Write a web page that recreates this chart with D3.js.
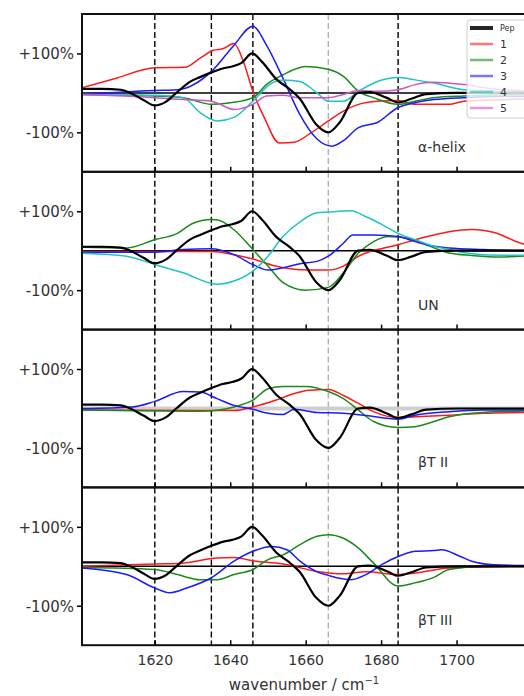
<!DOCTYPE html>
<html lang="en">
<head>
<meta charset="UTF-8">
<title>Difference spectra</title>
<script src="https://d3js.org/d3.v7.min.js"></script>
<style>
  body { margin: 0; background: #fff; }
  text { font-family: "DejaVu Sans", sans-serif; fill: #222; }
</style>
</head>
<body>
<div id="chart"></div>
<script>
// ---- data (wavenumber, % of peptide signal) ----
const panelNames = ["α-helix", "UN", "βT II", "βT III"];
const seriesNames = ["Pep", "1", "2", "3", "4", "5"];
const seriesColors = ["#000000", "#ff1a1a", "#1a8a1a", "#1a1aff", "#1fc4c4", "#cc55cc"];
const xTicks = [1620, 1640, 1660, 1680, 1700];
const yTicks = [100, -100];
const yTickLabels = ["+100%", "-100%"];
const markerLines = [1620, 1635, 1646, 1666, 1684.5];

const pep = [[1600,10],[1606,10],[1611,8],[1613.5,0],[1617,-18],[1620,-32],[1623,-22],[1625.7,0],
  [1629.3,28],[1632,40],[1635,52],[1638,62],[1640.5,67],[1643,76],[1645.8,100],[1648.5,78],
  [1652.2,35],[1655.8,9],[1658.4,-14],[1662.8,-80],[1666,-100],[1669,-75],[1673.9,0],[1677,2],
  [1681.4,-12],[1684.5,-24],[1688,-15],[1692,-3],[1700,0],[1720,0]];

// alpha-helix
const helix1 = [[1600,11],[1610,38],[1620,64],[1628,65],[1632,88],[1635.5,108],[1638,112],[1641,125],
  [1643.5,79],[1646,4],[1649,-62],[1653,-127],[1657,-125],[1661,-104],[1666,-71],[1670,-46],
  [1674,-29],[1679,-21],[1684.5,-19],[1689,-29],[1698,-29],[1702,-21],[1710,-18],[1720,-15]];
const helix2 = [[1600,-4],[1620,-8],[1627.5,-12],[1635,-29],[1640,-25],[1646,-12],[1649.6,21],[1654,46],
  [1660,67],[1666,60],[1670,42],[1674,4],[1678,-12],[1684.5,-29],[1689,-21],[1694,-12],[1702,-8],[1720,-4]];
const helix3 = [[1600,-4],[1620,6],[1626,8],[1635,54],[1641,121],[1646,169],[1649.6,121],[1654,37],
  [1658.4,-54],[1663,-117],[1667,-135],[1670,-121],[1674,-88],[1679,-75],[1684.5,-37],[1689,-25],
  [1694,-17],[1702,-12],[1720,-8]];
const helix4 = [[1600,-4],[1620,-6],[1627.5,-12],[1632,-50],[1636.5,-71],[1641,-62],[1646,-21],[1651,25],
  [1654,33],[1658.5,29],[1663,0],[1666,-21],[1670,-21],[1674,4],[1679,29],[1684.5,39],[1689,33],
  [1694,25],[1702,8],[1710,5],[1720,3]];
const helix5 = [[1600,-4],[1620,-12],[1627.5,-17],[1635,-21],[1641,-42],[1646,-29],[1649.6,-8],[1654,-6],
  [1658.5,-12],[1666,-12],[1670,-4],[1674,6],[1679,4],[1684.5,8],[1689,21],[1694,27],[1702,21],
  [1710,10],[1720,5]];

// UN
const un1 = [[1600,-2],[1635,-2],[1641,-10],[1646,-21],[1652,-39],[1658.5,-48],[1666,-49],[1670,-39],
  [1674,-14],[1679,3],[1684.5,15],[1689,28],[1694,40],[1698,48],[1704,54],[1710,46],[1717,19],[1720,12]];
const un2 = [[1600,9],[1612.5,7],[1620,28],[1626,44],[1630,69],[1635,79],[1637,77],[1641,53],[1646,3],
  [1650,-39],[1654,-81],[1660,-100],[1666,-93],[1670,-56],[1674,-6],[1678,23],[1682,36],[1687,32],
  [1692,15],[1698,-6],[1704,-12],[1711,-16],[1720,-12]];
const un3 = [[1600,-4],[1620,-4],[1627.5,3],[1635,5],[1641,-10],[1646,-35],[1650,-49],[1654,-43],
  [1658.5,-33],[1663,-27],[1666,-14],[1670,19],[1672.5,40],[1678,40],[1684.5,36],[1689,23],[1694,11],
  [1698,7],[1707,3],[1720,0]];
const un4 = [[1600,-6],[1612.5,-14],[1620,-35],[1627.5,-56],[1636.5,-85],[1641,-77],[1646,-52],[1650,-14],
  [1654,36],[1658.5,73],[1663,96],[1666,98],[1672,101],[1676,86],[1680.5,65],[1684.5,44],[1689,28],
  [1694,11],[1698,3],[1702.6,-6],[1707,-10],[1720,-12]];

// beta-turn II
const bt2_1 = [[1600,-4],[1641,-5],[1646,4],[1652,21],[1657,38],[1661,46],[1666,48],[1670,33],[1674,13],
  [1678,-8],[1684.5,-23],[1689,-21],[1698,-17],[1707,-12],[1720,-10]];
const bt2_2 = [[1600,-4],[1632,-7],[1641,4],[1646,21],[1650,50],[1654,56],[1660,56],[1666,43],[1670,25],
  [1674,-4],[1678,-33],[1684.5,-48],[1689,-46],[1694,-33],[1698,-21],[1707,-10],[1720,-6]];
const bt2_3 = [[1600,0],[1614,4],[1620,18],[1627.5,43],[1632,42],[1636.5,25],[1641,8],[1646,-2],[1650,-12],
  [1654,-15],[1657,-2],[1663,-10],[1670,-12],[1676,-18],[1684.5,-27],[1689,-17],[1698,-8],[1707,-4],[1720,-4]];

// beta-turn III
const bt3_1 = [[1600,0],[1620,6],[1627.5,8],[1636.5,21],[1641,22],[1646,14],[1654,6],[1663,-13],[1670,-19],
  [1676,-14],[1684.5,-21],[1689,-17],[1698,-4],[1720,0]];
const bt3_2 = [[1600,-3],[1620,-8],[1626,-21],[1632,-34],[1636.5,-34],[1641,-21],[1646,-8],[1650,17],
  [1654,29],[1658.5,55],[1663,76],[1666,80],[1670,71],[1674,46],[1678,8],[1684.5,-50],[1689,-42],
  [1694,-28],[1698,-8],[1707,0],[1720,0]];
const bt3_3 = [[1600,-4],[1612.5,-21],[1620,-55],[1624,-67],[1628.5,-55],[1635,-29],[1641,13],[1646,38],
  [1651,50],[1655,42],[1658.5,13],[1663,-14],[1666,-23],[1672,-34],[1676,-21],[1680.5,6],[1684.5,25],
  [1689,38],[1694,40],[1696,42],[1701,25],[1704,13],[1710,4],[1720,2]];

// series index -> data per panel (index matches seriesNames / seriesColors)
const panelSeries = [
  [[1, helix1], [2, helix2], [3, helix3], [4, helix4], [5, helix5], [0, pep]],
  [[1, un1], [2, un2], [3, un3], [4, un4], [0, pep]],
  [[1, bt2_1], [2, bt2_2], [3, bt2_3], [0, pep]],
  [[1, bt3_1], [2, bt3_2], [3, bt3_3], [0, pep]]
];

// ---- layout ----
const W = 524, H = 696;
const left = 82, right = 532;
const top0 = 14, ph = 157.8;

const svg = d3.select("#chart").append("svg")
  .attr("width", W).attr("height", H);

const x = d3.scaleLinear().domain([1600.7, 1720]).range([left, right]);

svg.append("defs").append("clipPath").attr("id", "plotclip")
  .append("rect").attr("x", left).attr("y", 0).attr("width", right - left).attr("height", ph);

panelSeries.forEach((series, i) => {
  const top = top0 + i * ph;
  const y = d3.scaleLinear().domain([-200, 200]).range([ph, 0]);
  const g = svg.append("g").attr("transform", `translate(0,${top})`);
  const plot = g.append("g").attr("clip-path", "url(#plotclip)");

  // reference band positions
  plot.selectAll("line.mark").data(markerLines).join("line")
    .attr("class", "mark")
    .attr("x1", d => x(d)).attr("x2", d => x(d))
    .attr("y1", 0).attr("y2", ph)
    .attr("stroke", (d, k) => k === 3 ? "#b0b0b0" : "#000")
    .attr("stroke-width", 1.4)
    .attr("stroke-dasharray", "6,3");

  // zero line
  plot.append("line")
    .attr("x1", left).attr("x2", right)
    .attr("y1", y(0)).attr("y2", y(0))
    .attr("stroke", i === 2 ? "#cfcfcf" : "#000")
    .attr("stroke-width", i === 2 ? 4 : 1.5);

  const line = d3.line()
    .x(d => x(d[0])).y(d => y(d[1]))
    .curve(d3.curveMonotoneX);

  plot.selectAll("path.s").data(series).join("path")
    .attr("class", "s")
    .attr("d", d => line(d[1]))
    .attr("fill", "none")
    .attr("stroke", d => seriesColors[d[0]])
    .attr("stroke-width", d => d[0] === 0 ? 2.2 : 1.5)
    .attr("stroke-linejoin", "round");

  // y axis (outward ticks)
  const yAxis = d3.axisLeft(y).tickValues(yTicks).tickSize(5)
    .tickFormat((d, k) => yTickLabels[k]);
  const ya = g.append("g").attr("transform", `translate(${left},0)`).call(yAxis);
  ya.select(".domain").remove();
  ya.selectAll(".tick line").attr("stroke", "#000").attr("stroke-width", 1.5);
  ya.selectAll(".tick text").attr("x", -8).attr("dy", "0.35em")
    .style("font-size", "15px").style("fill", "#333");

  // bottom axis (inward ticks)
  const xAxis = d3.axisBottom(x).tickValues(xTicks).tickSize(-5).tickFormat(d3.format("d"));
  const xa = g.append("g").attr("transform", `translate(0,${ph})`).call(xAxis);
  xa.select(".domain").remove();
  xa.selectAll(".tick line").attr("stroke", "#000").attr("stroke-width", 1.5);
  if (i === panelSeries.length - 1) {
    xa.selectAll(".tick text").attr("y", 10).attr("dy", "0.71em")
      .style("font-size", "14px").style("fill", "#333");
  } else {
    xa.selectAll(".tick text").remove();
  }

  // frame
  g.append("rect")
    .attr("x", left).attr("y", 0).attr("width", right - left).attr("height", ph)
    .attr("fill", "none").attr("stroke", "#111").attr("stroke-width", 2);

  // panel label
  g.append("text")
    .attr("x", 418).attr("y", ph - 20)
    .style("font-size", "14px").style("fill", "#333")
    .text(panelNames[i]);
});

// legend in first panel
const lg = svg.append("g");
lg.append("rect")
  .attr("x", 467).attr("y", 20).attr("width", 80).attr("height", 98).attr("rx", 3)
  .attr("fill", "#fff").attr("fill-opacity", 0.8)
  .attr("stroke", "#d0d0d0").attr("stroke-width", 1);
const legendY = d3.scalePoint().domain(seriesNames).range([28, 108]);
seriesNames.forEach((name, k) => {
  const yy = legendY(name);
  lg.append("line")
    .attr("x1", 470).attr("x2", 493).attr("y1", yy).attr("y2", yy)
    .attr("stroke", seriesColors[k])
    .attr("stroke-opacity", k === 0 ? 0.85 : 0.6)
    .attr("stroke-width", k === 0 ? 4 : 2.5);
  lg.append("text")
    .attr("x", 500).attr("y", yy).attr("dy", "0.35em")
    .style("font-size", k === 0 ? "8px" : "11px").style("fill", "#333")
    .text(name);
});

// x axis title
const xt = svg.append("text")
  .attr("x", 304).attr("y", 690)
  .attr("text-anchor", "middle")
  .style("font-size", "15px").style("fill", "#333");
xt.append("tspan").text("wavenumber / cm");
xt.append("tspan").attr("dy", -6).style("font-size", "10px").text("−1");
</script>
</body>
</html>
